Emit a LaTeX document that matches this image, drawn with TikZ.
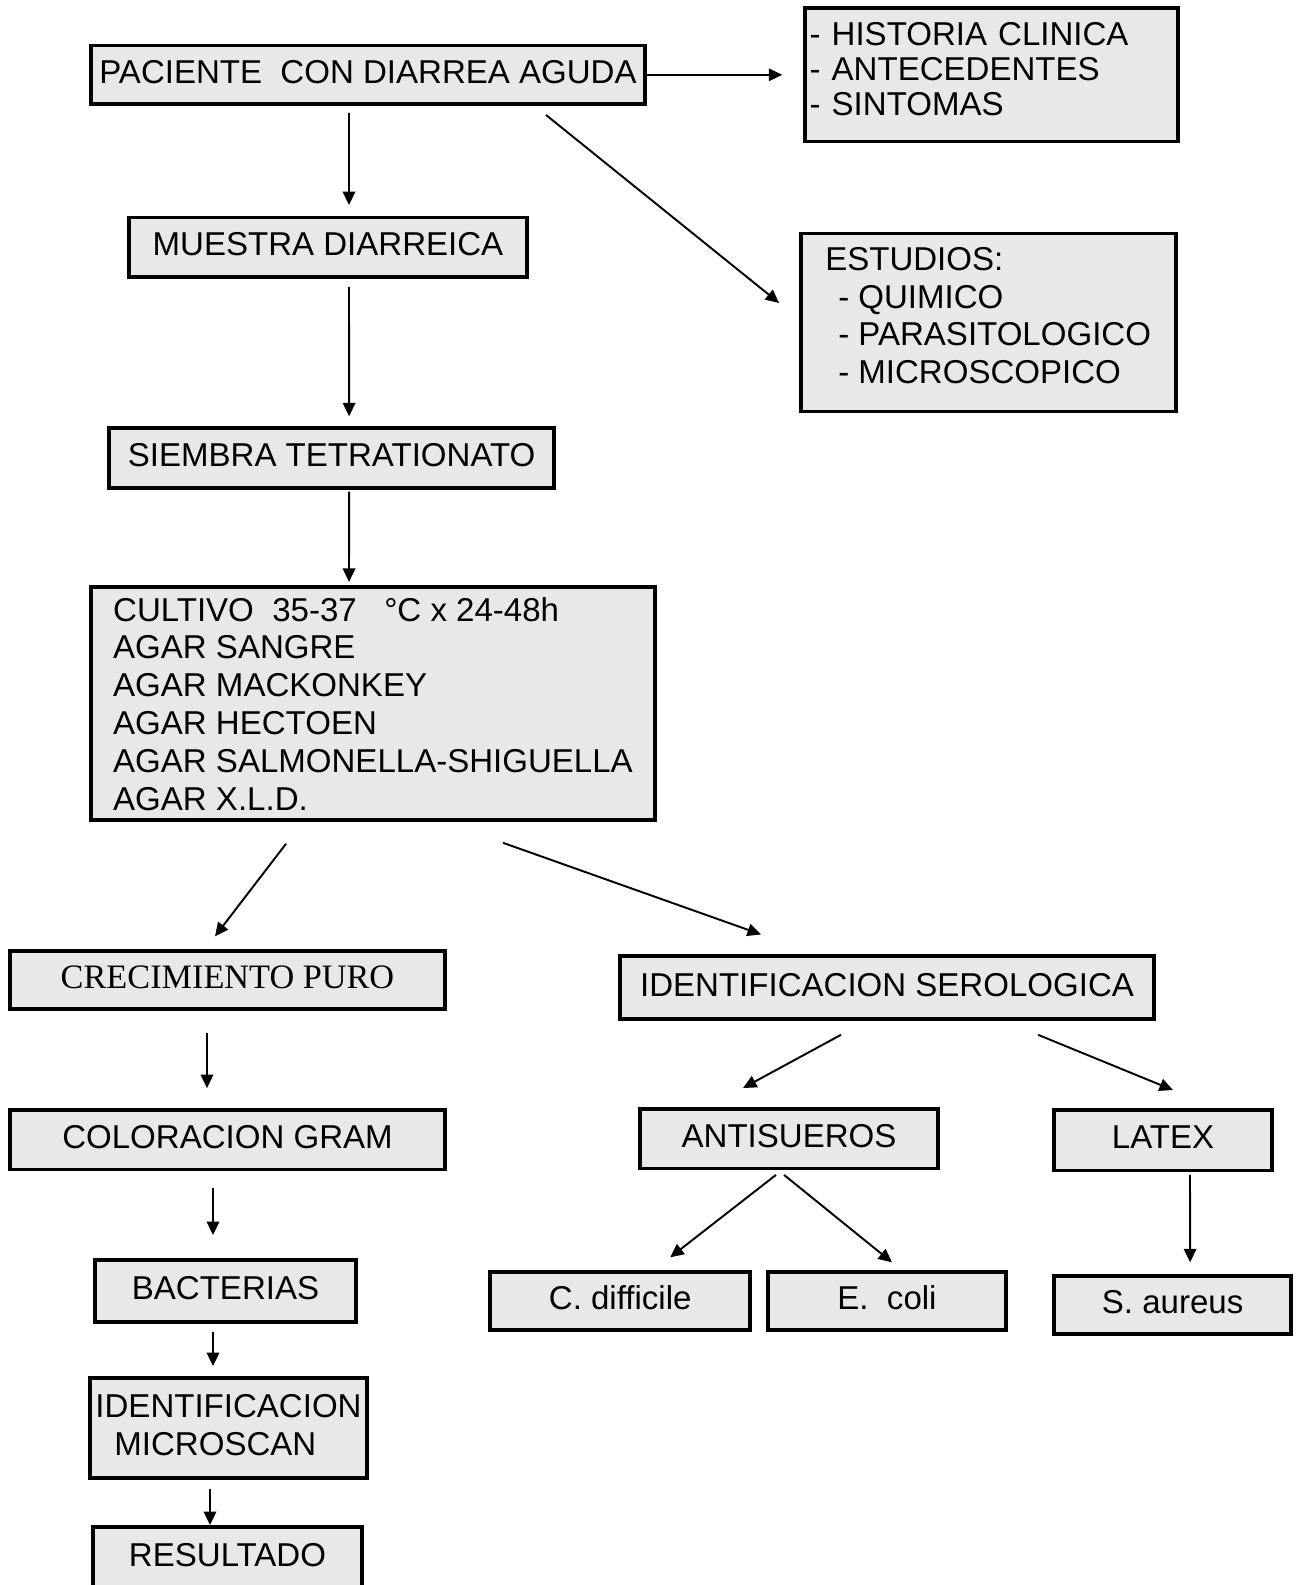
\documentclass[tikz,border=0pt]{standalone}
\usepackage{fontspec}
\setmainfont{Liberation Sans}
\newfontfamily\serifbox{Liberation Serif}
\usetikzlibrary{arrows.meta}
\definecolor{boxfill}{HTML}{E8E8E8}
\tikzset{
  box/.style={draw, line width=2.2pt, fill=boxfill, inner sep=0pt, text depth=1.2mm,
              font=\fontsize{18.8}{21.5}\selectfont},
  arr/.style={-{Triangle[length=2.7mm, width=2.5mm]}, line width=1.1pt}
}

\begin{document}
\begin{tikzpicture}[x=0.2mm, y=-0.2mm]
  \useasboundingbox (0,0) rectangle (1302,1585);
  \clip (0,0) rectangle (1302,1585);

  % top part
  \node[box, minimum width=110.8mm, minimum height=11.7mm] (pac) at (368,74.8) {PACIENTE\ \ CON DIARREA AGUDA};
  \node[box, minimum width=74.6mm, minimum height=26.7mm, align=left, text width=72.6mm, inner xsep=1mm,
        text depth=, font=\fontsize{18.8}{20}\selectfont] (hist) at (991.2,74.8)
    {- HISTORIA CLINICA\\- ANTECEDENTES\\- SINTOMAS\rule[-2.4mm]{0pt}{0pt}};
  \node[box, minimum width=79.5mm, minimum height=11.9mm] (muestra) at (328,247.2) {MUESTRA DIARREICA};
  \node[box, minimum width=75mm, minimum height=35.6mm, align=left, text depth=2.8mm] (estud) at (988.1,322.5)
    {ESTUDIOS:\\\hspace*{2.6mm}- QUIMICO\\\hspace*{2.6mm}- PARASITOLOGICO\\\hspace*{2.6mm}- MICROSCOPICO};
  \node[box, minimum width=89mm, minimum height=12.1mm] (siembra) at (331.6,458) {SIEMBRA TETRATIONATO};
  \node[box, minimum width=112.8mm, minimum height=46.5mm, align=left, text depth=0pt] (cultivo) at (373,703.6)
    {CULTIVO\ \ 35-37\ \ \ °C x 24-48h\\AGAR SANGRE\\AGAR MACKONKEY\\AGAR HECTOEN\\AGAR SALMONELLA-SHIGUELLA\\AGAR X.L.D.};

  % left branch
  \node[box, minimum width=86.9mm, minimum height=11.5mm, font=\serifbox\fontsize{19.5}{22}\selectfont] (crec) at (227.5,980) {CRECIMIENTO PURO};
  \node[box, minimum width=86.9mm, minimum height=11.9mm] (gram) at (227.5,1139.8) {COLORACION GRAM};
  \node[box, minimum width=52.2mm, minimum height=12.4mm] (bact) at (225.5,1291) {BACTERIAS};
  \node[box, minimum width=55.4mm, minimum height=20mm, align=left] (micro) at (228.5,1428) {IDENTIFICACION\\\hspace*{3.8mm}MICROSCAN};
  \node[box, minimum width=53.8mm, minimum height=13.6mm, text depth=2.6mm] (result) at (227.5,1561) {RESULTADO};

  % right branch
  \node[box, minimum width=106.9mm, minimum height=12.5mm] (serol) at (887,987.6) {IDENTIFICACION SEROLOGICA};
  \node[box, minimum width=59.6mm, minimum height=11.9mm] (antis) at (789,1138.7) {ANTISUEROS};
  \node[box, minimum width=43.5mm, minimum height=12.1mm] (latex) at (1163,1140.2) {LATEX};
  \node[box, minimum width=52mm, minimum height=11.7mm] (cdiff) at (620.2,1301) {C. difficile};
  \node[box, minimum width=47.5mm, minimum height=11.7mm] (ecoli) at (887,1301) {E.\ \ coli};
  \node[box, minimum width=47.3mm, minimum height=11.7mm] (saur) at (1172.6,1305) {S. aureus};

  % arrows
  \draw[arr] (pac.east) -- ([xshift=-4.1mm]hist.west);
  \draw[arr] ([xshift=-3.8mm, yshift=-1.4mm]pac.south) -- ([xshift=4.2mm, yshift=2.1mm]muestra.north);
  \draw[arr] ([xshift=35.6mm, yshift=-1.8mm]pac.south) -- ([xshift=-3.9mm, yshift=3.9mm]estud.west);
  \draw[arr] ([xshift=4.2mm, yshift=-1.6mm]muestra.south) -- ([xshift=3.5mm, yshift=1.9mm]siembra.north);
  \draw[arr] ([xshift=3.5mm, yshift=-0.3mm]siembra.south) -- ([xshift=-4.8mm, yshift=0.7mm]cultivo.north);
  \draw[arr] ([xshift=-17.4mm, yshift=-4.4mm]cultivo.south) -- ([xshift=-2.5mm, yshift=2.6mm]crec.north);
  \draw[arr] ([xshift=26mm, yshift=-4.2mm]cultivo.south) -- ([xshift=-25.2mm, yshift=4mm]serol.north);
  \draw[arr] ([xshift=-4.1mm, yshift=-4.4mm]crec.south) -- ([xshift=-4.1mm, yshift=4mm]gram.north);
  \draw[arr] ([xshift=-2.9mm, yshift=-3.3mm]gram.south) -- ([xshift=-2.5mm, yshift=4.6mm]bact.north);
  \draw[arr] ([xshift=-2.5mm, yshift=-1.6mm]bact.south) -- ([xshift=-3.1mm, yshift=2mm]micro.north);
  \draw[arr] ([xshift=-3.7mm, yshift=-1.8mm]micro.south) -- ([xshift=-3.5mm]result.north);
  \draw[arr] ([xshift=-9.2mm, yshift=-2.8mm]serol.south) -- ([xshift=-9.2mm, yshift=3.8mm]antis.north);
  \draw[arr] ([xshift=30.2mm, yshift=-2.8mm]serol.south) -- ([xshift=2mm, yshift=3.6mm]latex.north);
  \draw[arr] ([xshift=-2.6mm, yshift=-0.9mm]antis.south) -- ([xshift=10mm, yshift=2.5mm]cdiff.north);
  \draw[arr] ([xshift=-1mm, yshift=-0.9mm]antis.south) -- ([xshift=1mm, yshift=1.5mm]ecoli.north);
  \draw[arr] ([xshift=5.4mm, yshift=-0.5mm]latex.south) -- ([xshift=3.5mm, yshift=2.3mm]saur.north);
\end{tikzpicture}
\end{document}
